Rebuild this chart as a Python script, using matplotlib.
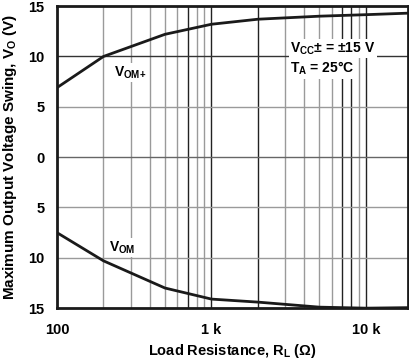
import matplotlib
matplotlib.use("Agg")
import matplotlib.pyplot as plt
from matplotlib.ticker import FixedLocator, FixedFormatter, NullLocator

plt.rcParams['font.family'] = ['Liberation Sans', 'DejaVu Sans']
plt.rcParams['font.weight'] = 'bold'
plt.rcParams['mathtext.fontset'] = 'custom'
plt.rcParams['mathtext.rm'] = 'Liberation Sans'
plt.rcParams['mathtext.bf'] = 'Liberation Sans:bold'
plt.rcParams['mathtext.it'] = 'Liberation Sans:italic'

# load resistance (ohm) and swing (V)
r_pos = [100, 200, 500, 1000, 2000, 5000, 10000, 18700]
v_pos = [6.9, 10.0, 12.2, 13.2, 13.7, 14.0, 14.15, 14.3]
r_neg = [100, 200, 500, 1000, 2000, 5000, 10000, 18700]
v_neg = [-7.5, -10.3, -13.0, -14.1, -14.4, -14.9, -15.0, -14.95]

x_ticks = [100, 1000, 10000]
x_labels = ['100', '1 k', '10 k']
y_ticks = [-15, -10, -5, 0, 5, 10, 15]
y_labels = ['15', '10', '5', '0', '5', '10', '15']

grid_x_light = [200, 300, 400, 500, 600, 800, 900, 3000, 4000, 5000, 6000, 9000]
grid_x_dark = [700, 1000, 2000, 7000, 8000, 10000]

fig = plt.figure(figsize=(4.1, 3.6), dpi=100)
ax = fig.add_axes([0.139, 0.144, 0.856, 0.839])
ax.set_xscale('log')
ax.set_xlim(100, 18700)
ax.set_ylim(-15, 15)

for g in grid_x_light:
    ax.axvline(g, color='#9a9a9a', lw=1.0, zorder=1)
for g in grid_x_dark:
    ax.axvline(g, color='#222222', lw=1.0, zorder=1)
for g in [-10, -5, 5]:
    ax.axhline(g, color='#9a9a9a', lw=1.0, zorder=1)
ax.axhline(0, color='#666666', lw=1.0, zorder=1)
ax.axhline(10, color='#333333', lw=1.0, zorder=1)

ax.plot(r_pos, v_pos, color='#1a1a1a', lw=2.0, zorder=3)
ax.plot(r_neg, v_neg, color='#1a1a1a', lw=2.0, zorder=3)

box = dict(facecolor='white', edgecolor='none', pad=1.0)
ax.text(235, 8.4, r'V$_{\mathbf{OM{+}}}$', fontsize=10, fontweight='bold',
        va='center', ha='left', bbox=box, zorder=4)
ax.text(217, -9.0, r'V$_{\mathbf{OM}}$', fontsize=10, fontweight='bold',
        va='center', ha='left', bbox=box, zorder=4)
ax.text(3220, 10.8, r'V$_{\mathbf{CC}}$± = ±15 V', fontsize=10, fontweight='bold',
        va='center', ha='left', bbox=box, zorder=4)
ax.text(3220, 8.8, r'T$_{\mathbf{A}}$ = 25°C', fontsize=10, fontweight='bold',
        va='center', ha='left', bbox=box, zorder=4)

ax.xaxis.set_major_locator(FixedLocator(x_ticks))
ax.xaxis.set_major_formatter(FixedFormatter(x_labels))
ax.xaxis.set_minor_locator(NullLocator())
ax.yaxis.set_major_locator(FixedLocator(y_ticks))
ax.yaxis.set_major_formatter(FixedFormatter(y_labels))
ax.tick_params(axis='x', length=0, labelsize=10.5, pad=11)
ax.tick_params(axis='y', length=0, labelsize=10.5, pad=9)
for lbl in ax.get_xticklabels() + ax.get_yticklabels():
    lbl.set_fontweight('bold')

for s in ax.spines.values():
    s.set_linewidth(2.0)
    s.set_color('#1a1a1a')
    s.set_zorder(5)

ax.set_xlabel(r'Load Resistance, R$_{\mathbf{L}}$ (Ω)', fontsize=10.5,
              fontweight='bold', labelpad=3)
ax.set_ylabel(r'Maximum Output Voltage Swing, V$_{\mathbf{O}}$ (V)', fontsize=11,
              fontweight='bold', labelpad=7)

plt.savefig('out.png', dpi=100)
